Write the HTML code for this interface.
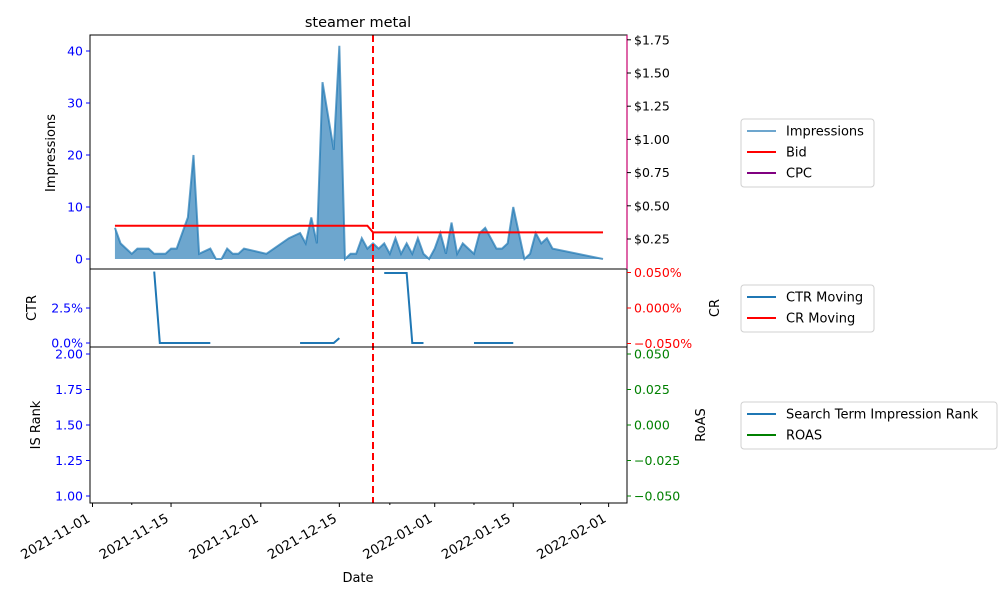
<!DOCTYPE html>
<html><head><meta charset="utf-8"><style>
body{margin:0;background:#fff;width:1000px;height:600px;overflow:hidden}
svg{font-family:"DejaVu Sans","Liberation Sans",sans-serif}
</style></head><body>
<svg id="chart" width="1000" height="600" xmlns="http://www.w3.org/2000/svg"></svg>
<script>
// ---- data ----
const impDays = [4,5,6,7,8,9,10,11,12,13,14,15,16,17,18,19,21,22,23,24,25,26,27,31,35,37,38,39,40,41,43,44,45,46,47,48,49,50,51,52,53,54,55,56,57,58,59,60,61,62,63,64,65,66,67,68,69,70,71,72,73,74,75,76,77,78,79,80,81,82,91];
const impValues = [6,3,2,1,2,2,2,1,1,1,2,2,5,8,20,1,2,0,0,2,1,1,2,1,4,5,3,8,3,34,21,41,0,1,1,4,2,3,2,3,1,4,1,3,1,4,1,0,2,5,1,7,1,3,2,1,5,6,4,2,2,3,10,5,0,1,5,3,4,2,0];
const bidDays = [4,49,50,91];
const bidValues = [0.35,0.35,0.30,0.30];
const ctrDays = [11,12,21,null,37,43,44,null,52,56,57,59,null,68,75];
const ctrValues = [5.1,0,0,null,0,0,0.35,null,5.0,5.0,0,0,null,0,0];
const eventDay = 50;
const xTickLabels = ["2021-11-01","2021-11-15","2021-12-01","2021-12-15","2022-01-01","2022-01-15","2022-02-01"];
const xTickDays = [0,14,30,44,61,75,92];
const impTicks = [0,10,20,30,40];
const bidTicks = [0.25,0.5,0.75,1.0,1.25,1.5,1.75];
const ctrTicks = [0,2.5];
const crTicks = [0.05,0,-0.05];
const rankTicks = [1.0,1.25,1.5,1.75,2.0];
const roasTicks = [0.05,0.025,0,-0.025,-0.05];

const svg = document.getElementById('chart');
const NS = 'http://www.w3.org/2000/svg';
function mk(tag, attrs, parent, text){
  const e = document.createElementNS(NS, tag);
  for (const k in attrs) e.setAttribute(k, attrs[k]);
  if (text !== undefined) e.textContent = text;
  (parent||svg).appendChild(e);
  return e;
}
const L=90, R=627;
const X = d => 92.5 + d*5.61;
const yImp = v => 259 - v*5.2;
const yBid = v => 239 - (v-0.25)*132.8;
const yCtr = v => 343 - v*14;
const yCr = v => 308 - v*710;
const yRank = v => 496 - (v-1)*142;
const yRoas = v => 425 - v*1420;

let pts = impDays.map((d,i)=>X(d)+','+yImp(impValues[i]));
const area = mk('polygon',{points: X(impDays[0])+','+yImp(0)+' '+pts.join(' ')+' '+X(impDays[impDays.length-1])+','+yImp(0), fill:'#1f77b4', 'fill-opacity':0.65});


const impLine = mk('polyline',{points:pts.join(' '), fill:'none', stroke:'#1f77b4','stroke-opacity':0.7,'stroke-width':2});


const bid = mk('polyline',{points: bidDays.map((d,i)=>X(d)+','+yBid(bidValues[i])).join(' '), fill:'none', stroke:'#ff0000','stroke-width':2});



let seg=[]; const segs=[];
ctrDays.forEach((d,i)=>{ if(d===null){ if(seg.length) segs.push(seg); seg=[]; } else seg.push(X(d)+','+yCtr(ctrValues[i])); });
if(seg.length) segs.push(seg);
segs.forEach(s=>{
  const p = mk('polyline',{points:s.join(' '), fill:'none', stroke:'#1f77b4','stroke-width':2});
  
  
});

const ev = mk('line',{x1:X(eventDay),x2:X(eventDay),y1:35,y2:503,stroke:'#ff0000','stroke-width':2,'stroke-dasharray':'7,4'});



[[35,269],[269,347],[347,503]].forEach(([t,b],i)=>{
  const r = mk('rect',{x:L,y:t,width:R-L,height:b-t,fill:'none',stroke:'#000','stroke-width':1});
  
  
});
mk('line',{x1:R,x2:R,y1:35,y2:269,stroke:'#c8006e','stroke-width':1.2});

function ytick(x, y, label, color, side){
  const dir = side==='left'?-1:1;
  mk('line',{x1:x,x2:x+dir*4,y1:y,y2:y,stroke:color});
  const t = mk('text',{x:x+dir*7,y:y+4.5,'font-size':12.5,fill:color,'text-anchor':side==='left'?'end':'start'},undefined,label);
  
  
}
impTicks.forEach(v=>ytick(L,yImp(v),String(v),'#0000ff','left'));
bidTicks.forEach(v=>ytick(R,yBid(v),'$'+v.toFixed(2),'#000','right'));
ctrTicks.forEach(v=>ytick(L,yCtr(v),v.toFixed(1)+'%','#0000ff','left'));
crTicks.forEach(v=>ytick(R,yCr(v),(v<0?'\u2212':'')+Math.abs(v).toFixed(3)+'%','#ff0000','right'));
rankTicks.forEach(v=>ytick(L,yRank(v),v.toFixed(2),'#0000ff','left'));
roasTicks.forEach(v=>ytick(R,yRoas(v),(v<0?'\u2212':'')+Math.abs(v).toFixed(3),'#008000','right'));

xTickDays.forEach((d,i)=>{
  mk('line',{x1:X(d),x2:X(d),y1:503,y2:507,stroke:'#000'});
  const ax = X(d)-1.5, ay = 521;
  const t = mk('text',{x:ax,y:ay,'font-size':13.3,'text-anchor':'end',transform:'rotate(-30 '+ax+' '+ay+')'},undefined,xTickLabels[i]);
  
  
});
[7,53,68,87].forEach(d=>mk('line',{x1:X(d),x2:X(d),y1:503,y2:505,stroke:'#000'}));

function label(x,y,txt,name,rot,size){
  const t = mk('text',{x:x,y:y,'font-size':size||13,'text-anchor':'middle',transform:rot?'rotate(-90 '+x+' '+y+')':''},undefined,txt);
  
  
}
label(358,27,'steamer metal','chart-title',false,14.5);
label(358,582,'Date','x-axis-title');
label(55,153,'Impressions','impressions-axis-title',true);
label(36,308,'CTR','ctr-axis-title',true);
label(719,308,'CR','cr-axis-title',true);
label(40,425,'IS Rank','is-rank-axis-title',true);
label(705,425,'RoAS','roas-axis-title',true);

function legend(x,y,w,items,name){
  const g = mk('g',{});
  
  
  mk('rect',{x:x,y:y,width:w,height:items.length*21+5,rx:3,fill:'#fff',stroke:'#d0d0d0'},g);
  items.forEach((it,i)=>{
    const cy = y+12+i*21;
    mk('line',{x1:x+6,x2:x+35,y1:cy,y2:cy,stroke:it[1],'stroke-width':2,'stroke-opacity':it[2]||1},g);
    const t = mk('text',{x:x+45,y:cy+4.5,'font-size':13},g,it[0]);
    
    
  });
}
legend(741,119,133,[['Impressions','#1f77b4',0.65],['Bid','#ff0000'],['CPC','#800080']],'legend-top');
legend(741,285,133,[['CTR Moving','#1f77b4'],['CR Moving','#ff0000']],'legend-middle');
legend(741,402,256,[['Search Term Impression Rank','#1f77b4'],['ROAS','#008000']],'legend-bottom');
</script>
</body></html>
